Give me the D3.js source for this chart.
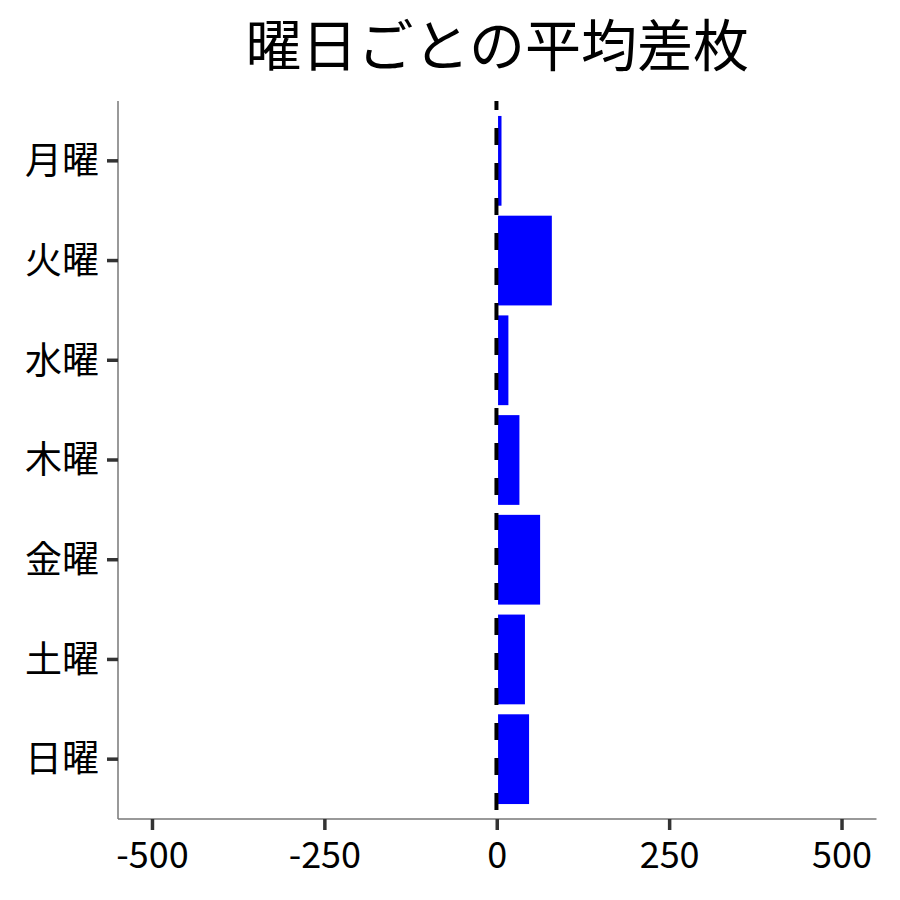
<!DOCTYPE html>
<html><head><meta charset="utf-8">
<script src="https://cdn.jsdelivr.net/npm/d3@7"></script>
<style>body{margin:0;background:#fff}</style>
</head><body>
<svg id="c" width="900" height="900"></svg>
<script>
const categories = ["月曜","火曜","水曜","木曜","金曜","土曜","日曜"];
const values = [5, 78, 15, 31, 61, 39, 45];
const xTicks = [-500, -250, 0, 250, 500];
const title = "曜日ごとの平均差枚";

const font = "'Noto Sans CJK JP','Noto Sans',sans-serif";
const svg = d3.select("#c");
const L = 118, R = 876.5, T = 101, B = 819;
const x = d3.scaleLinear().domain([-550, 550]).range([L, R]);
const unit = (B - T) / 7.2;
const y = d3.scaleBand().domain(categories).range([T + 0.1*unit, B - 0.1*unit]).paddingInner(0.1).paddingOuter(0.05);

svg.append("text").attr("x", (L+R)/2).attr("y", 66).attr("text-anchor","middle")
  .attr("font-family", font).attr("font-size", 56).attr("fill","#000").text(title);

svg.append("g").selectAll("rect").data(values).join("rect")
  .attr("x", d => Math.min(x(0), x(d)) + 0.8)
  .attr("width", d => Math.abs(x(d) - x(0)))
  .attr("y", (d,i) => y(categories[i]))
  .attr("height", y.bandwidth())
  .attr("fill", "#0000ff");

svg.append("line").attr("x1", x(0)-0.8).attr("x2", x(0)-0.8).attr("y1", T).attr("y2", B)
  .attr("stroke","#000").attr("stroke-width",4).attr("stroke-dasharray","17,18").attr("stroke-dashoffset", 8);

// axes lines
svg.append("line").attr("x1", L).attr("x2", L).attr("y1", T).attr("y2", B).attr("stroke","#777").attr("stroke-width",1.5);
svg.append("line").attr("x1", L).attr("x2", R).attr("y1", B).attr("y2", B).attr("stroke","#777").attr("stroke-width",1.5);

// y ticks
const yg = svg.append("g");
yg.selectAll("line").data(categories).join("line")
  .attr("x1", L-11).attr("x2", L).attr("y1", d => y(d)+y.bandwidth()/2).attr("y2", d => y(d)+y.bandwidth()/2)
  .attr("stroke","#333").attr("stroke-width",3.5);
yg.selectAll("text").data(categories).join("text")
  .attr("x", L-19).attr("y", d => y(d)+y.bandwidth()/2).attr("dy","0.36em")
  .attr("text-anchor","end").attr("font-family", font).attr("font-size", 37).attr("fill","#000").text(d => d);

// x ticks
const xg = svg.append("g");
xg.selectAll("line").data(xTicks).join("line")
  .attr("x1", d => x(d)).attr("x2", d => x(d)).attr("y1", B).attr("y2", B+11)
  .attr("stroke","#333").attr("stroke-width",3.5);
xg.selectAll("text").data(xTicks).join("text")
  .attr("x", d => x(d)).attr("y", 868)
  .attr("text-anchor","middle").attr("font-family", font).attr("font-size", 36).attr("fill","#000").text(d => d);
</script>
</body></html>
